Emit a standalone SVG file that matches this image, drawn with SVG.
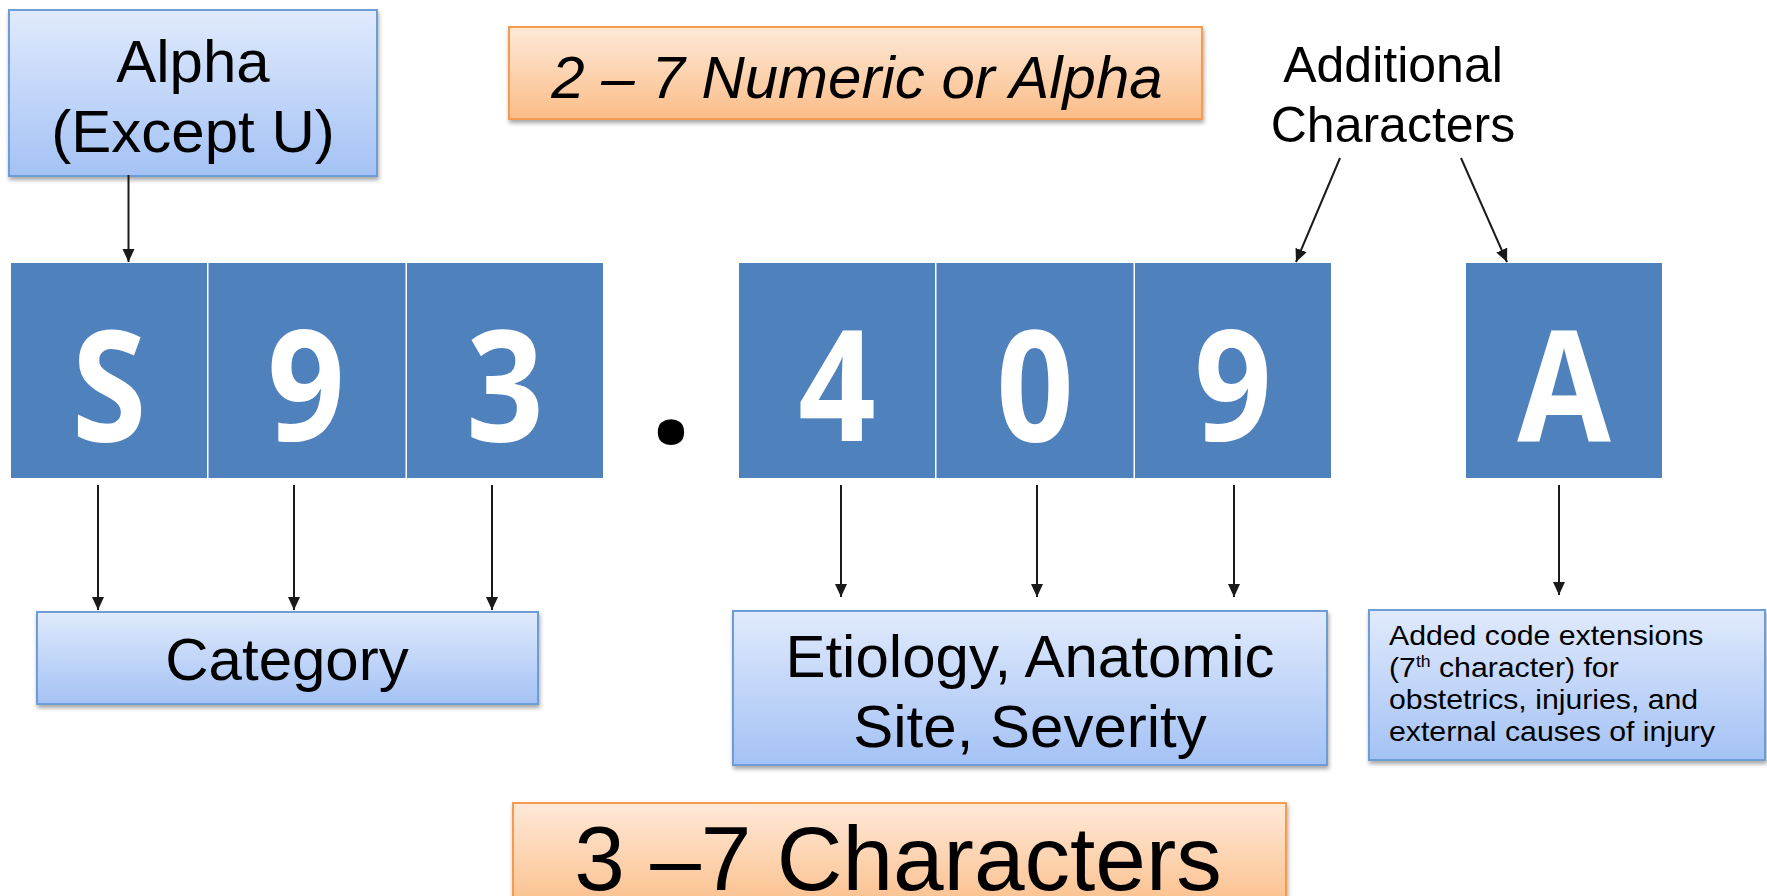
<svg xmlns="http://www.w3.org/2000/svg" width="1767" height="896" viewBox="0 0 1767 896">
<style>
.lbl{font-family:"Liberation Sans",Arial,sans-serif;fill:#000;}
.big{font-family:"Open Sans","DejaVu Sans",sans-serif;font-weight:bold;fill:#fff;font-size:154px;text-anchor:middle;}
.sq{fill:#4f81bd;}
.bbox{fill:url(#gBlue);stroke:#6d9cd6;stroke-width:2;filter:url(#sh);}
.obox{fill:url(#gOrange);stroke:#f69a50;stroke-width:2;filter:url(#sh);}
.conn line{stroke:#1a1a1a;stroke-width:2;marker-end:url(#ah);}
</style>
<defs>
<linearGradient id="gBlue" x1="0" y1="0" x2="0" y2="1">
<stop offset="0" stop-color="#e0eafc"/>
<stop offset="1" stop-color="#a4c2f5"/>
</linearGradient>
<linearGradient id="gOrange" x1="0" y1="0" x2="0" y2="1">
<stop offset="0" stop-color="#fee9d8"/>
<stop offset="1" stop-color="#fbbd88"/>
</linearGradient>
<filter id="sh" x="-5%" y="-10%" width="110%" height="130%">
<feDropShadow dx="1" dy="3" stdDeviation="2" flood-color="#000" flood-opacity="0.35"/>
</filter>
<marker id="ah" markerWidth="14" markerHeight="14" refX="13" refY="6" orient="auto" markerUnits="userSpaceOnUse">
<path d="M0,0 L13,6 L0,12 z" fill="#1a1a1a"/>
</marker>
</defs>
<rect width="1767" height="896" fill="#fff"/>

<g id="alpha">
<rect class="bbox" x="9" y="10" width="368" height="166"/>
<text class="lbl" x="193" y="82" font-size="60" text-anchor="middle">Alpha</text>
<text class="lbl" x="193" y="152" font-size="60" text-anchor="middle">(Except U)</text>
</g>

<g id="numeric-or-alpha">
<rect class="obox" x="509" y="27" width="693" height="92"/>
<text class="lbl" x="857" y="98" font-size="60" font-style="italic" text-anchor="middle">2 – 7 Numeric or Alpha</text>
</g>

<g id="additional">
<text class="lbl" x="1393" y="82" font-size="50" text-anchor="middle">Additional</text>
<text class="lbl" x="1393" y="142" font-size="50" text-anchor="middle">Characters</text>
</g>

<g id="char-S">
<rect class="sq" x="11" y="263" width="196" height="215"/>
<text class="big" transform="translate(109,441) scale(0.88,1)">S</text>
</g>
<g id="char-9a">
<rect class="sq" x="208.5" y="263" width="197" height="215"/>
<text class="big" transform="translate(306,441) scale(0.88,1)">9</text>
</g>
<g id="char-3">
<rect class="sq" x="407" y="263" width="196" height="215"/>
<text class="big" transform="translate(505,441) scale(0.88,1)">3</text>
</g>
<g id="dot">
<text x="671" y="443" font-family="'Open Sans','DejaVu Sans',sans-serif" font-weight="bold" font-size="154" text-anchor="middle" fill="#000">.</text>
</g>
<g id="char-4">
<rect class="sq" x="739" y="263" width="196" height="215"/>
<text class="big" transform="translate(837,441) scale(0.88,1)">4</text>
</g>
<g id="char-0">
<rect class="sq" x="936.5" y="263" width="197" height="215"/>
<text class="big" transform="translate(1035,441) scale(0.88,1)">0</text>
</g>
<g id="char-9b">
<rect class="sq" x="1135" y="263" width="196" height="215"/>
<text class="big" transform="translate(1233,441) scale(0.88,1)">9</text>
</g>
<g id="char-A">
<rect class="sq" x="1466" y="263" width="196" height="215"/>
<text class="big" transform="translate(1564,441) scale(0.88,1)">A</text>
</g>

<g id="category">
<rect class="bbox" x="37" y="612" width="501" height="92"/>
<text class="lbl" x="287" y="680" font-size="60" text-anchor="middle">Category</text>
</g>

<g id="etiology">
<rect class="bbox" x="733" y="611" width="594" height="154"/>
<text class="lbl" x="1030" y="677" font-size="60" text-anchor="middle">Etiology, Anatomic</text>
<text class="lbl" x="1030" y="747" font-size="60" text-anchor="middle">Site, Severity</text>
</g>

<g id="extensions">
<rect class="bbox" x="1369" y="610" width="396" height="150"/>
<g transform="translate(1389,0) scale(1.1,1)">
<text class="lbl" x="0" y="645" font-size="27.5" fill="#222">Added code extensions</text>
<text class="lbl" x="0" y="677" font-size="27.5" fill="#222">(7<tspan font-size="16" dy="-10">th</tspan><tspan dy="10"> character) for</tspan></text>
<text class="lbl" x="0" y="709" font-size="27.5" fill="#222">obstetrics, injuries, and</text>
<text class="lbl" x="0" y="741" font-size="27.5" fill="#222">external causes of injury</text>
</g>
</g>

<g id="characters">
<rect class="obox" x="513" y="803" width="773" height="110"/>
<text class="lbl" x="898" y="890" font-size="91" text-anchor="middle">3 –7 Characters</text>
</g>

<g id="connectors" class="conn">
<line x1="128.5" y1="175" x2="128.5" y2="262"/>
<line x1="1340" y1="158" x2="1296" y2="262"/>
<line x1="1461" y1="158" x2="1507" y2="262"/>
<line x1="98" y1="485" x2="98" y2="610"/>
<line x1="294" y1="485" x2="294" y2="610"/>
<line x1="492" y1="485" x2="492" y2="610"/>
<line x1="841" y1="485" x2="841" y2="597"/>
<line x1="1037" y1="485" x2="1037" y2="597"/>
<line x1="1234" y1="485" x2="1234" y2="597"/>
<line x1="1559" y1="485" x2="1559" y2="595"/>
</g>
</svg>
